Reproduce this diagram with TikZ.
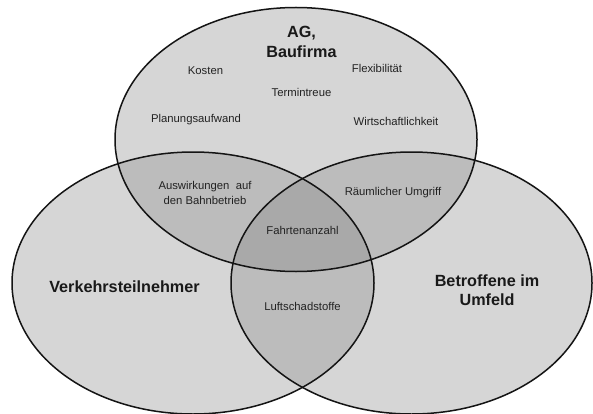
\documentclass[tikz,border=0pt]{standalone}
\usepackage{fontspec}
\setmainfont{Liberation Sans}
\definecolor{fillone}{HTML}{D6D6D6}
\definecolor{filltwo}{HTML}{BCBCBC}
\definecolor{fillthree}{HTML}{A9A9A9}
\definecolor{edge}{HTML}{141414}
\definecolor{txt}{HTML}{222222}
\newcommand\ellTop{(296,139.5) ellipse [x radius=181pt, y radius=132pt]}
\newcommand\ellLeft{(193,283) ellipse [x radius=181pt, y radius=131pt]}
\newcommand\ellRight{(411.5,283) ellipse [x radius=180.5pt, y radius=131pt]}
\tikzset{
  item/.style={font=\fontsize{11.3}{15}\selectfont, text=txt, align=center, inner sep=0pt},
  group/.style={font=\fontsize{16.2}{19.5}\selectfont\bfseries, text=black!90, align=center, inner sep=0pt},
  rim/.style={draw=edge, line width=1.5pt}
}
\begin{document}
\begin{tikzpicture}[x=1pt,y=-1pt]
\useasboundingbox (0,0) rectangle (593,414);
\fill[white] (0,0) rectangle (593,414);
\clip (0,0) rectangle (593,414);
\fill[fillone] \ellTop;
\fill[fillone] \ellLeft;
\fill[fillone] \ellRight;
\begin{scope}
  \clip \ellTop;
  \fill[filltwo] \ellLeft;
  \fill[filltwo] \ellRight;
\end{scope}
\begin{scope}
  \clip \ellLeft;
  \fill[filltwo] \ellRight;
\end{scope}
\begin{scope}
  \clip \ellTop;
  \clip \ellLeft;
  \fill[fillthree] \ellRight;
\end{scope}
\draw[rim] \ellTop;
\draw[rim] \ellLeft;
\draw[rim] \ellRight;

\node[group] (ag) at (301.5,42) {AG,\\Baufirma};
\node[group] (vt) at (124.5,287) {Verkehrsteilnehmer};
\node[group] (bu) at (487,290) {Betroffene im\\Umfeld};

\node[item] (kosten) at (205.5,71) {Kosten};
\node[item] (flex) at (377,68.5) {Flexibilität};
\node[item] (termin) at (301.5,92) {Termintreue};
\node[item] (plan) at (196,119.5) {Planungsaufwand};
\node[item] (wirt) at (396,121) {Wirtschaftlichkeit};
\node[item] (ausw) at (205,192.5) {Auswirkungen\ \ auf\\den Bahnbetrieb};
\node[item] (raum) at (393,193) {Räumlicher Umgriff};
\node[item] (fahrt) at (302.5,230.5) {Fahrtenanzahl};
\node[item] (luft) at (302.5,306) {Luftschadstoffe};
\end{tikzpicture}
\end{document}
